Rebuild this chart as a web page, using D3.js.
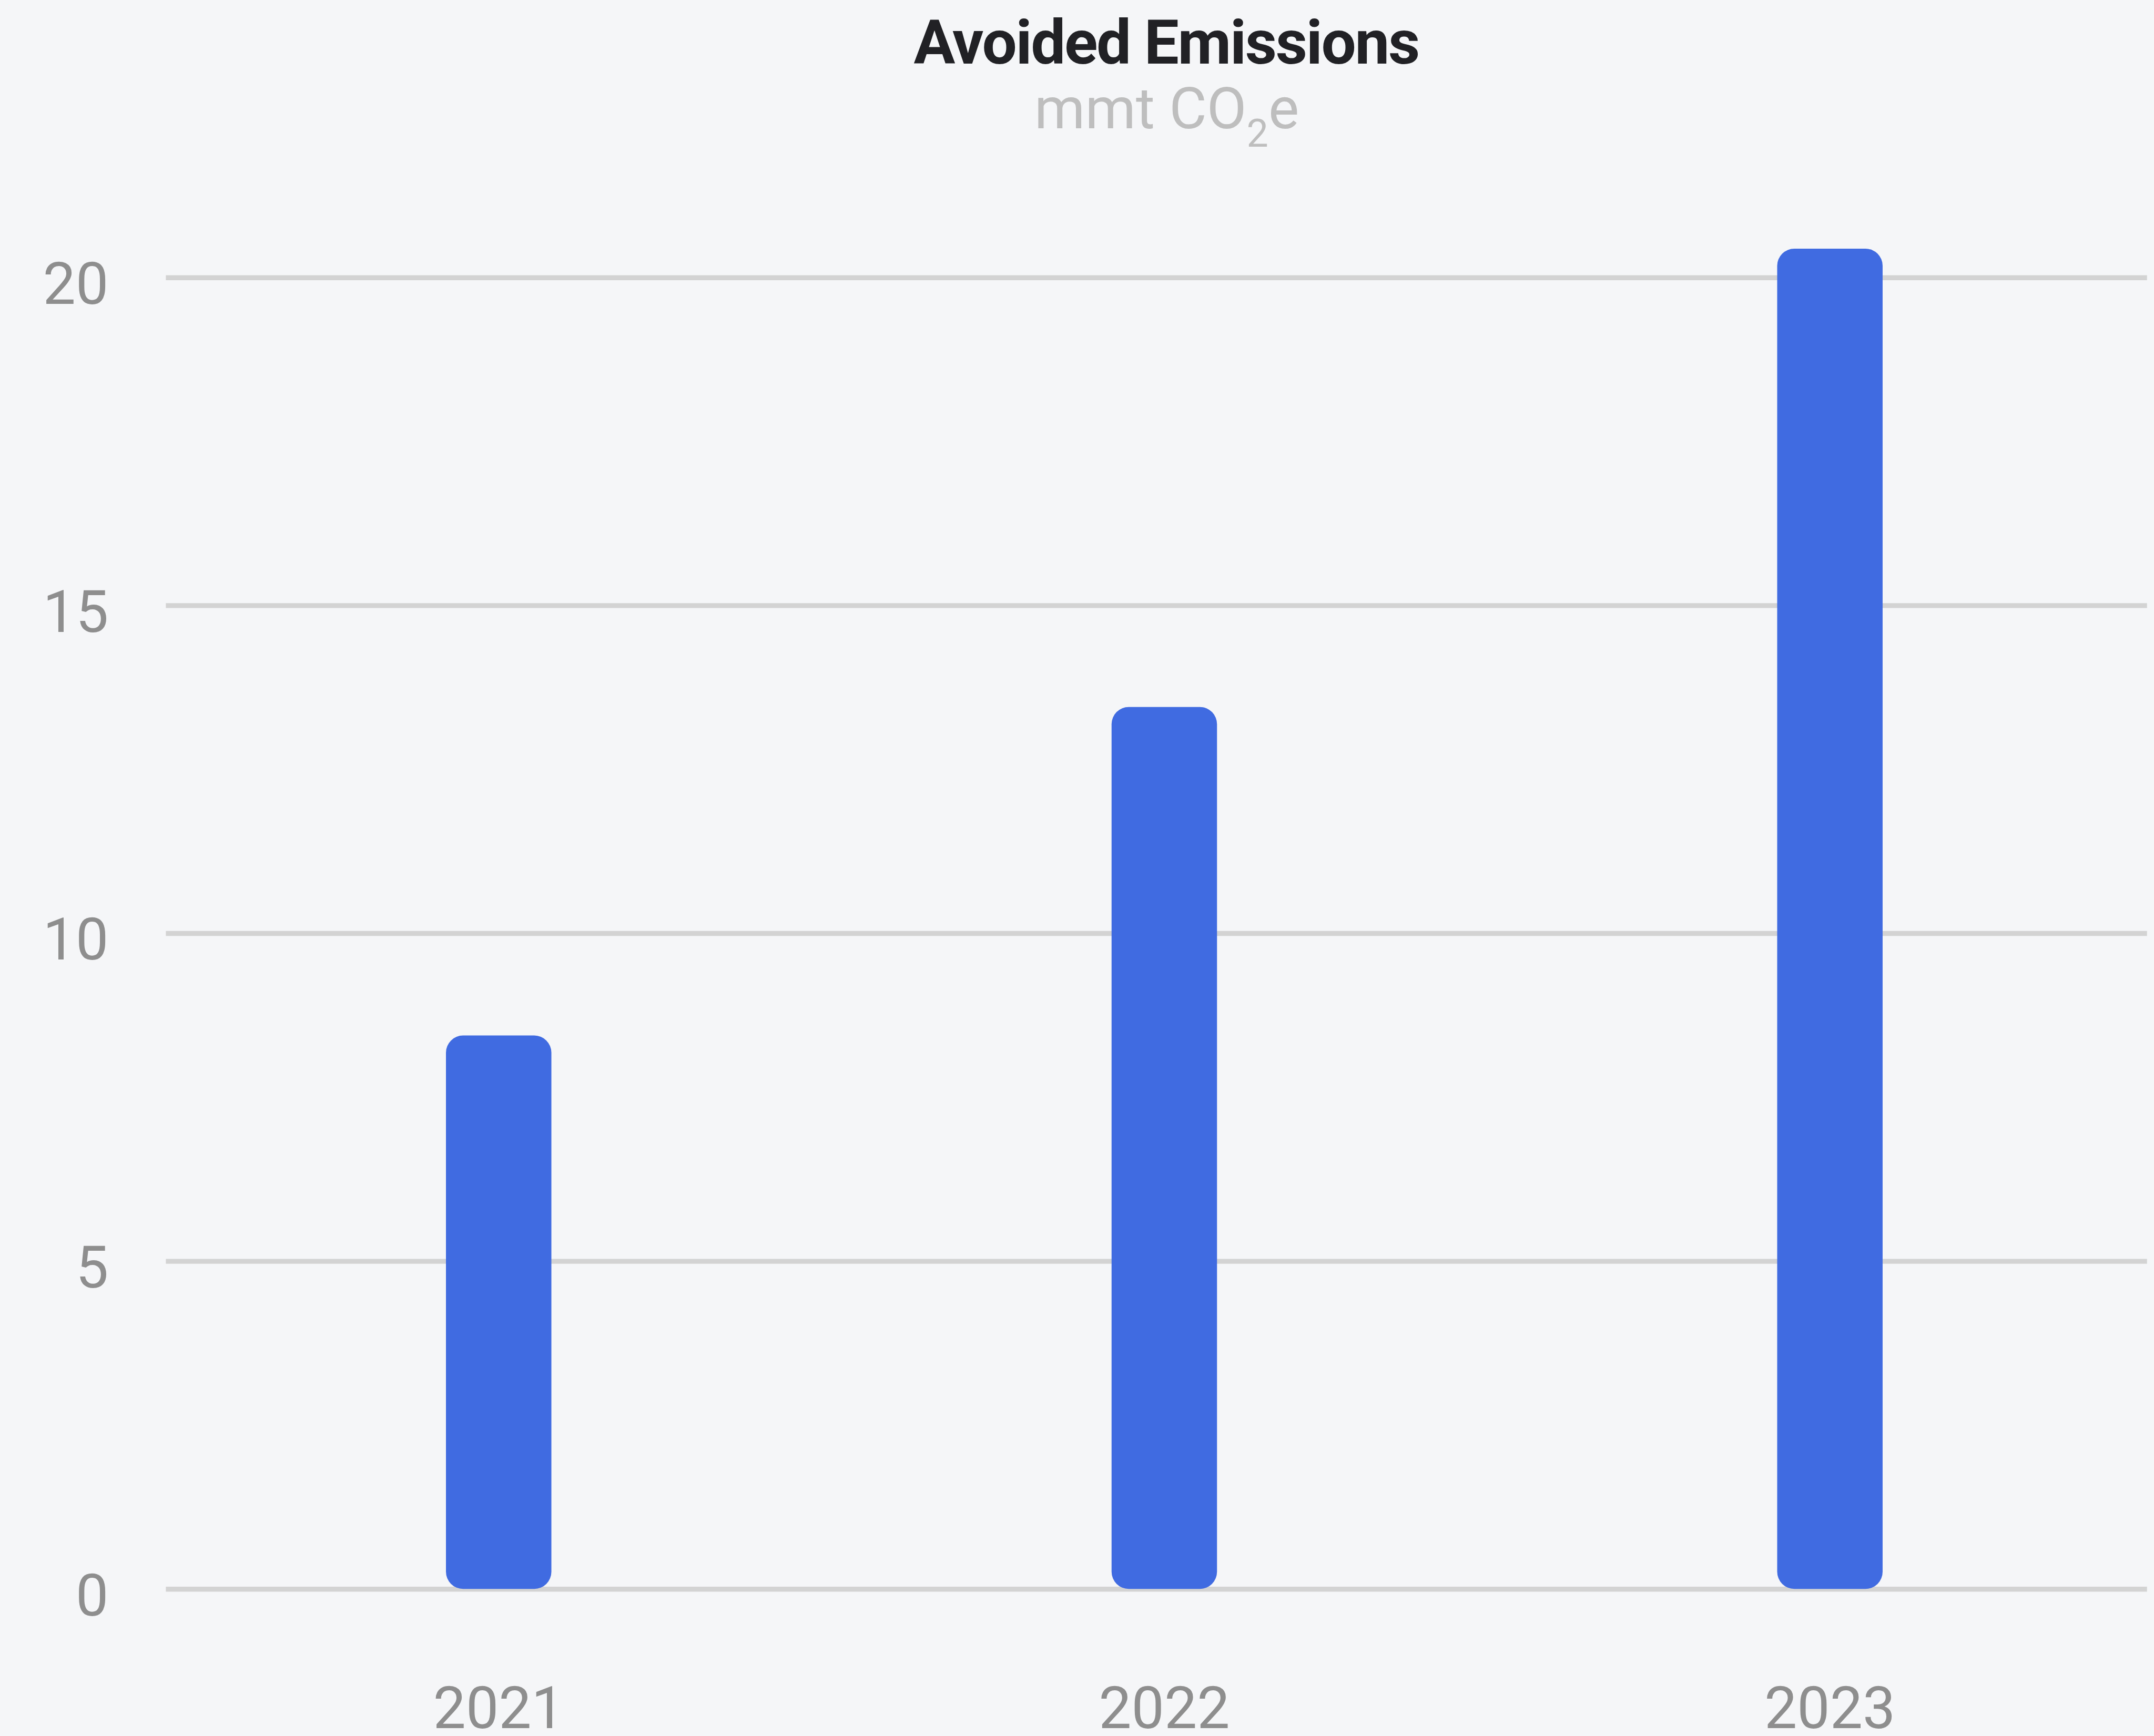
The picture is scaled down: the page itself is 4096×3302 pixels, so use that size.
<!DOCTYPE html>
<html>
<head>
<meta charset="utf-8">
<script src="https://cdn.jsdelivr.net/npm/d3@7"></script>
<style>
  html, body { margin: 0; padding: 0; background: #f5f6f8; }
  svg { display: block; }
  text { font-family: Roboto, "Liberation Sans", sans-serif; }
</style>
</head>
<body>
<div id="chart"></div>
<script>
// values
const years = ["2021", "2022", "2023"];
const avoided = [8.44, 13.45, 20.44];
const yTicks = [0, 5, 10, 15, 20];

const titleText = "Avoided Emissions";

// drawing in the reference's own pixel units, viewBox scales to the window
let W = 4392, H = 3541;
let margin = {left: 338, right: 4378, top: 566, bottom: 3241};

let svg = d3.select("#chart").append("svg")
  .attr("width", 4096)
  .attr("height", 3302)
  .attr("viewBox", "0 0 " + W + " " + H);

svg.append("rect")
  .attr("width", W).attr("height", H)
  .attr("fill", "#f5f6f8");

var x = d3.scaleBand()
  .domain(years)
  .range([338, 4410]);

var y = d3.scaleLinear()
  .domain([0, 20])
  .range([margin.bottom, margin.top]);

// y axis + gridlines
let yAxis = svg.append("g")
  .attr("transform", "translate(" + margin.left + ",0)")
  .call(d3.axisLeft(y)
    .tickValues(yTicks)
    .tickSize(-(margin.right - margin.left))
    .tickPadding(117));
yAxis.select(".domain").remove();
yAxis.selectAll(".tick line")
  .attr("stroke", "#d3d3d3")
  .attr("stroke-width", 10);
yAxis.selectAll(".tick text")
  .attr("fill", "#8e8e8e")
  .attr("font-size", 119)
  .attr("dy", "0.45em");

// bars
let barW = 215;
svg.append("g").selectAll("rect")
  .data(avoided)
  .enter().append("rect")
    .attr("x", (d, i) => x(years[i]) + x.bandwidth() / 2 - barW / 2)
    .attr("y", d => y(d))
    .attr("width", barW)
    .attr("height", d => y(0) - y(d))
    .attr("rx", 35)
    .attr("ry", 35)
    .attr("fill", "#406be1");

// x axis labels
let xAxis = svg.append("g")
  .attr("transform", "translate(0," + margin.bottom + ")")
  .call(d3.axisBottom(x).tickSize(0).tickPadding(284));
xAxis.select(".domain").remove();
xAxis.selectAll(".tick text")
  .attr("fill", "#8e8e8e")
  .attr("font-size", 119)
  .attr("dy", 0);

// title and subtitle
svg.append("text")
  .attr("x", 2378)
  .attr("y", 130)
  .attr("text-anchor", "middle")
  .attr("font-size", 126)
  .attr("font-weight", "bold")
  .attr("letter-spacing", -2.5)
  .attr("fill", "#212125")
  .text(titleText);

let sub = svg.append("text")
  .attr("x", 2379)
  .attr("y", 262)
  .attr("text-anchor", "middle")
  .attr("font-size", 118)
  .attr("fill", "#bebebe");
sub.append("tspan").text("mmt CO");
sub.append("tspan").attr("font-size", 79).attr("dy", 37).text("2");
sub.append("tspan").attr("dy", -37).text("e");
</script>
</body>
</html>
